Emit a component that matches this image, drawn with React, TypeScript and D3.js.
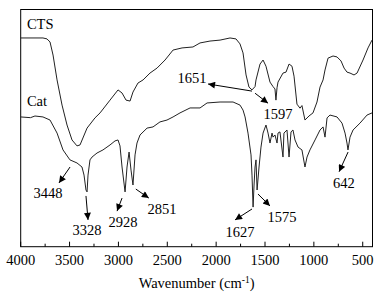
import React from "react";
import * as d3 from "d3";

// Wavenumber (cm^-1) and relative transmittance for CTS
const ctsWave = [4000,3772,3731,3700,3669,3628,3577,3526,3475,3424,3393,3321,3240,3188,3086,3004,2963,2922,2881,2851,2800,2748,2677,2605,2523,2441,2349,2237,2165,2063,1960,1858,1797,1756,1725,1694,1664,1633,1602,1592,1551,1520,1490,1449,1418,1398,1388,1377,1367,1316,1285,1254,1224,1203,1173,1142,1122,1091,1050,1009,968,937,906,886,855,804,763,722,691,661,630,589,558,497,446,405];
const ctsVal  = [88.0,88.0,87.6,86.3,80.8,70.3,59.7,51.3,45.0,42.5,42.9,50.0,54.3,56.4,61.8,66.1,64.8,61.8,61.4,65.2,69.0,70.3,73.2,75.3,78.7,82.9,83.8,84.2,85.9,86.7,87.1,88.0,87.6,85.5,81.7,72.4,67.3,66.1,67.5,70.3,77.0,78.7,76.1,69.4,67.5,66.5,61.8,67.0,69.4,73.2,73.6,77.0,76.1,71.9,60.1,58.4,59.5,53.4,55.1,56.4,61.0,67.3,70.3,74.5,79.5,80.4,80.0,78.3,75.3,73.6,73.2,72.4,73.2,78.7,83.8,87.1];

// Wavenumber (cm^-1) and relative transmittance for Cat
const catWave = [4000,3900,3854,3772,3700,3628,3567,3496,3424,3373,3352,3332,3321,3311,3291,3270,3219,3158,3086,3035,3004,2984,2963,2932,2912,2891,2871,2851,2830,2810,2779,2707,2646,2575,2503,2441,2370,2267,2165,2093,1960,1827,1756,1725,1704,1674,1643,1633,1622,1612,1602,1592,1581,1561,1541,1520,1490,1469,1449,1428,1418,1398,1377,1367,1347,1316,1306,1275,1254,1234,1214,1193,1162,1122,1091,1070,1040,988,937,906,886,865,835,763,712,681,661,651,630,599,528,456,405];
const catVal  = [54.7,54.4,55.1,54.7,53.4,47.9,40.8,36.6,35.3,33.6,30.2,23.9,23.1,30.2,36.6,37.8,39.5,40.8,42.9,44.6,45.0,42.5,33.6,23.1,33.6,39.9,32.3,26.0,38.7,43.7,47.1,50.0,50.5,52.6,53.4,54.7,56.4,58.5,58.5,60.6,61.0,61.0,59.7,57.6,54.7,47.9,38.7,30.2,16.7,26.0,33.6,36.6,23.9,33.6,42.0,47.9,51.3,47.9,43.7,47.9,46.2,47.1,43.7,47.9,48.4,37.8,47.9,49.2,37.8,48.4,49.2,45.0,42.0,40.8,33.6,37.8,40.8,45.0,49.2,50.5,46.2,54.3,55.5,54.7,52.1,47.9,43.7,40.8,46.2,49.2,52.1,55.5,56.4];

const xTicksMajor = [4000,3500,3000,2500,2000,1500,1000,500];
const xTicksMinor = [3750,3250,2750,2250,1750,1250,750];

// Series labels (wavenumber, value)
const seriesLabels = [
  { text: "CTS", w: 3936, v: 91.8 },
  { text: "Cat", w: 3936, v: 59.3 },
];

// Peak annotations: label position and arrow (from -> to) in data units
const peakLabels = ["3448","3328","2928","2851","1627","1575","642","1651","1597"];
const peakTextW = [3721,3321,2953,2554,1756,1326,693,2246,1367];
const peakTextV = [20.5,4.9,8.3,13.8,4.1,10.4,24.7,69.0,53.8];
const arrowFromW = [3495,3332,2963,2822,1633,1572,650,1633,1602];
const arrowFromV = [33.6,21.4,20.5,24.3,15.9,22.2,39.9,65.6,64.7];
const arrowToW = [3608,3311,3014,2689,1807,1449,742,2083,1469];
const arrowToV = [26.9,11.3,15.0,20.5,11.3,17.2,31.6,68.6,60.5];

const W = 379, H = 299;
const left = 20.7, right = 372.5, top = 9.5, bottom = 246.7;
const FONT = "'Liberation Serif', 'Times New Roman', serif";

export default function App() {
  const x = d3.scaleLinear().domain([4000, 400]).range([left, right]);
  const y = d3.scaleLinear().domain([0, 100]).range([bottom, top]);
  const line = d3.line<[number, number]>().x(d => x(d[0])).y(d => y(d[1]));
  const cts = ctsWave.map((w, i) => [w, ctsVal[i]] as [number, number]);
  const cat = catWave.map((w, i) => [w, catVal[i]] as [number, number]);

  return (
    <svg width={W} height={H} style={{ position: "absolute", left: 0, top: 0, background: "#fff" }}
      fontFamily={FONT}>
      <defs>
        <marker id="ah" viewBox="0 0 10 10" refX="10" refY="5" markerWidth="9" markerHeight="7"
          markerUnits="userSpaceOnUse" orient="auto">
          <path d="M0,0 L10,5 L0,10 z" fill="#000" />
        </marker>
      </defs>
      <rect x={left} y={top} width={right - left} height={bottom - top} fill="none" stroke="#000" strokeWidth={1} />
      {xTicksMajor.map(t => (
        <g key={"M" + t}>
          <line x1={x(t)} x2={x(t)} y1={bottom} y2={bottom - 5} stroke="#000" />
          <text x={x(t)} y={265} textAnchor="middle" fontSize={14.5} fill="#000">{t}</text>
        </g>
      ))}
      {xTicksMinor.map(t => (
        <line key={"m" + t} x1={x(t)} x2={x(t)} y1={bottom} y2={bottom - 3} stroke="#000" />
      ))}
      <text x={(left + right) / 2} y={288} textAnchor="middle" fontSize={14.5} fill="#000">
        Wavenumber (cm<tspan dy={-5} fontSize={9.5}>-1</tspan><tspan dy={5}>)</tspan>
      </text>
      <path d={line(cts) || ""} fill="none" stroke="#222" strokeWidth={1} strokeLinejoin="round" />
      <path d={line(cat) || ""} fill="none" stroke="#222" strokeWidth={1} strokeLinejoin="round" />
      {seriesLabels.map(s => (
        <text key={s.text} x={x(s.w)} y={y(s.v)} fontSize={14.5} fill="#000">{s.text}</text>
      ))}
      {peakLabels.map((p, i) => (
        <g key={p}>
          <line x1={x(arrowFromW[i])} y1={y(arrowFromV[i])} x2={x(arrowToW[i])} y2={y(arrowToV[i])}
            stroke="#000" strokeWidth={1} markerEnd="url(#ah)" />
          <text x={x(peakTextW[i])} y={y(peakTextV[i])} textAnchor="middle" fontSize={14.5} fill="#000">{p}</text>
        </g>
      ))}
    </svg>
  );
}
